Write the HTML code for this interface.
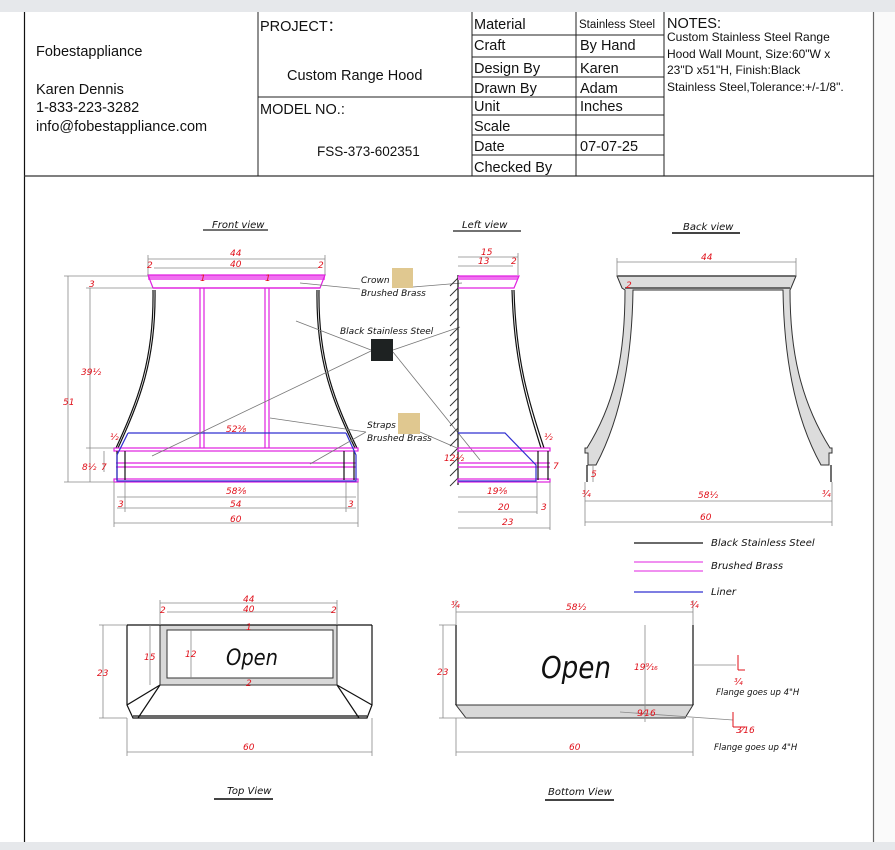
<!DOCTYPE html>
<html><head><meta charset="utf-8"><style>
body{margin:0;width:895px;height:850px;background:#fff;overflow:hidden;font-family:"Liberation Sans",sans-serif}
svg{display:block}
.t{font-family:"Liberation Sans",sans-serif;fill:#111}
.d{font-family:"DejaVu Sans","Liberation Sans",sans-serif;font-style:italic;fill:#e0101a;font-size:9px}
.l{font-family:"DejaVu Sans","Liberation Sans",sans-serif;font-style:italic;fill:#111;font-size:9px}
.dim{stroke:#888;stroke-width:0.8;fill:none}
.k{stroke:#111;stroke-width:1.2;fill:none}
.p{stroke:#e020e0;stroke-width:1.2;fill:none}
.b{stroke:#3030d0;stroke-width:1.2;fill:none}
.g{stroke:#777;stroke-width:0.8;fill:none}
</style></head><body>
<svg width="895" height="850" viewBox="0 0 895 850">
<rect x="0" y="0" width="895" height="12" fill="#e6e8eb"/>
<rect x="0" y="842" width="895" height="8" fill="#e6e8eb"/>
<rect x="874" y="12" width="21" height="830" fill="#fafafa"/>
<line x1="24.5" y1="12" x2="24.5" y2="842" stroke="#111" stroke-width="1.2"/>
<line x1="873.5" y1="12" x2="873.5" y2="842" stroke="#666" stroke-width="1.2"/>
<line x1="24" y1="176" x2="874" y2="176" stroke="#333" stroke-width="1.2"/>
<!-- title block -->
<g stroke="#222" stroke-width="1">
<line x1="258" y1="12" x2="258" y2="176"/><line x1="472" y1="12" x2="472" y2="176"/>
<line x1="576" y1="12" x2="576" y2="176"/><line x1="664" y1="12" x2="664" y2="176"/>
<line x1="258" y1="97" x2="472" y2="97"/>
<line x1="472" y1="35" x2="664" y2="35"/><line x1="472" y1="57" x2="664" y2="57"/>
<line x1="472" y1="77" x2="664" y2="77"/><line x1="472" y1="97" x2="664" y2="97"/>
<line x1="472" y1="115" x2="664" y2="115"/><line x1="472" y1="135" x2="664" y2="135"/>
<line x1="472" y1="155" x2="664" y2="155"/>
</g>
<g class="t" font-size="14.5">
<text x="36" y="56">Fobestappliance</text>
<text x="36" y="94">Karen Dennis</text>
<text x="36" y="112">1-833-223-3282</text>
<text x="36" y="131">info@fobestappliance.com</text>
<text x="260" y="31">PROJECT：</text>
<text x="287" y="80">Custom Range Hood</text>
<text x="260" y="114">MODEL NO.:</text>
<text x="317" y="156" font-size="13.5">FSS-373-602351</text>
<text x="474" y="29">Material</text><text x="474" y="50">Craft</text>
<text x="474" y="73">Design By</text><text x="474" y="93">Drawn By</text>
<text x="474" y="111">Unit</text><text x="474" y="131">Scale</text>
<text x="474" y="151">Date</text><text x="474" y="172">Checked By</text>
<text x="579" y="28" font-size="11.5">Stainless Steel</text>
<text x="580" y="50">By Hand</text><text x="580" y="73">Karen</text>
<text x="580" y="93">Adam</text><text x="580" y="111">Inches</text>
<text x="580" y="151">07-07-25</text>
<text x="667" y="28">NOTES:</text>
</g>
<g class="t" font-size="12">
<text x="667" y="41">Custom Stainless Steel Range</text>
<text x="667" y="58">Hood Wall Mount, Size:60"W x</text>
<text x="667" y="74">23"D x51"H, Finish:Black</text>
<text x="667" y="91">Stainless Steel,Tolerance:+/-1/8".</text>
</g>

<!-- view titles -->
<g class="l" style="font-size:10px">
<text x="212" y="228">Front view</text><line x1="203" y1="230" x2="268" y2="230" stroke="#444" stroke-width="1.5"/>
<text x="462" y="228">Left view</text><line x1="453" y1="231" x2="521" y2="231" stroke="#444" stroke-width="1.5"/>
<text x="683" y="230">Back view</text><line x1="672" y1="233" x2="740" y2="233" stroke="#444" stroke-width="2"/>
<text x="227" y="794">Top View</text><line x1="214" y1="799" x2="273" y2="799" stroke="#444" stroke-width="2"/>
<text x="548" y="795">Bottom View</text><line x1="545" y1="800" x2="614" y2="800" stroke="#444" stroke-width="2"/>
</g>

<!-- FRONT VIEW -->
<rect x="148" y="275" width="177" height="5" fill="#f070f0"/>
<path class="p" d="M148,275 L325,275 L320,288 L153,288 Z"/>
<line class="p" x1="153" y1="288" x2="320" y2="288" stroke-width="1.5"/>
<path class="k" d="M155,290 C156,360 140,400 118,448"/>
<path class="k" d="M153,290 C154,360 138,400 116,448"/>
<path class="k" d="M317,290 C316,360 332,400 355,448"/>
<path class="k" d="M319,290 C318,360 334,400 357,448"/>
<path class="p" d="M200,288 V448 M204,288 V448 M265,288 V448 M269,288 V448"/>
<rect class="p" x="114" y="448" width="244" height="3"/>
<line class="p" x1="116" y1="463" x2="356" y2="463"/><line class="p" x1="116" y1="467" x2="356" y2="467"/>
<rect class="p" x="114" y="479" width="244" height="3"/>
<path class="k" d="M117,451 V480 M125,451 V480 M344,451 V480 M354,451 V480"/>
<path class="b" d="M128,433 H346 M128,433 L117,455 V481 H356 V455 L346,433"/>
<g class="dim">
<line x1="148" y1="259" x2="325" y2="259"/><line x1="154" y1="268" x2="318" y2="268"/>
<line x1="148" y1="255" x2="148" y2="275"/><line x1="325" y1="255" x2="325" y2="275"/>
<line x1="68" y1="276" x2="68" y2="482"/><line x1="64" y1="276" x2="148" y2="276"/>
<line x1="90" y1="288" x2="90" y2="482"/><line x1="86" y1="288" x2="153" y2="288"/>
<line x1="104" y1="451" x2="104" y2="472"/><line x1="64" y1="482" x2="114" y2="482"/>
<line x1="86" y1="448" x2="114" y2="448"/>
<line x1="117" y1="497" x2="356" y2="497"/><line x1="117" y1="508" x2="356" y2="508"/>
<line x1="114" y1="523" x2="358" y2="523"/>
<line x1="114" y1="482" x2="114" y2="527"/><line x1="358" y1="482" x2="358" y2="527"/>
<line x1="125" y1="482" x2="125" y2="512"/><line x1="346" y1="482" x2="346" y2="512"/>
</g>
<g class="d">
<text x="230" y="256">44</text><text x="230" y="267">40</text>
<text x="147" y="268">2</text><text x="318" y="268">2</text>
<text x="89" y="287">3</text><text x="200" y="281">1</text><text x="265" y="281">1</text>
<text x="81" y="375">39½</text><text x="63" y="405">51</text>
<text x="226" y="432">52⅜</text><text x="110" y="440">½</text>
<text x="82" y="470">8½</text><text x="101" y="470">7</text>
<text x="226" y="494">58⅜</text><text x="118" y="507">3</text><text x="230" y="507">54</text><text x="348" y="507">3</text>
<text x="230" y="522">60</text>
</g>

<!-- material labels -->
<rect x="392" y="268" width="21" height="20" fill="#e0c890"/>
<rect x="371" y="339" width="22" height="22" fill="#1e2222"/>
<rect x="398" y="413" width="22" height="21" fill="#e0c890"/>
<g class="l">
<text x="361" y="283">Crown</text><text x="361" y="296">Brushed Brass</text>
<text x="340" y="334">Black Stainless Steel</text>
<text x="367" y="428">Straps</text><text x="367" y="441">Brushed Brass</text>
</g>
<g class="g">
<path d="M300,283 L360,289 M413,287 L462,283"/>
<path d="M296,321 L371,350 M152,456 L371,351 M393,350 L460,327 M393,352 L480,460"/>
<path d="M270,418 L366,432 M310,464 L366,432 M420,432 L457,448"/>
</g>

<!-- LEFT VIEW -->
<line x1="458" y1="275" x2="458" y2="485" stroke="#111" stroke-width="1.2"/>
<path d="M450,286 l8,-8 M450,296 l8,-8 M450,306 l8,-8 M450,316 l8,-8 M450,326 l8,-8 M450,336 l8,-8 M450,346 l8,-8 M450,356 l8,-8 M450,366 l8,-8 M450,376 l8,-8 M450,386 l8,-8 M450,396 l8,-8 M450,406 l8,-8 M450,416 l8,-8 M450,426 l8,-8 M450,436 l8,-8 M450,446 l8,-8 M450,456 l8,-8 M450,466 l8,-8 M450,476 l8,-8 M450,486 l8,-8" stroke="#333" stroke-width="0.9"/>
<rect x="458" y="276" width="60" height="4" fill="#f070f0"/>
<path class="p" d="M458,276 H519 L514,288 H458"/>
<path class="k" d="M512,290 C514,360 526,400 541,448"/>
<path class="k" d="M514,290 C516,360 528,400 544,448"/>
<rect class="p" x="458" y="448" width="92" height="3"/>
<line class="p" x1="458" y1="463" x2="550" y2="463"/><line class="p" x1="458" y1="467" x2="550" y2="467"/>
<rect class="p" x="458" y="479" width="92" height="3"/>
<path class="k" d="M538,451 V480 M548,451 V480"/>
<path class="b" d="M458,433 H505 L536,465 V481 H458"/>
<g class="dim">
<line x1="458" y1="257" x2="518" y2="257"/><line x1="458" y1="266" x2="513" y2="266"/>
<line x1="518" y1="253" x2="518" y2="275"/>
<line x1="458" y1="497" x2="537" y2="497"/><line x1="458" y1="512" x2="537" y2="512"/>
<line x1="458" y1="528" x2="550" y2="528"/><line x1="550" y1="482" x2="550" y2="530"/>
<line x1="537" y1="482" x2="537" y2="514"/>
</g>
<g class="d">
<text x="481" y="255">15</text><text x="478" y="264">13</text><text x="511" y="264">2</text>
<text x="544" y="440">½</text><text x="444" y="461">12½</text><text x="553" y="469">7</text>
<text x="487" y="494">19⅜</text><text x="498" y="510">20</text><text x="541" y="510">3</text><text x="502" y="525">23</text>
</g>

<!-- BACK VIEW -->
<path d="M617,276 H796 L791,288 L790,290 C790,350 800,400 830,448 L832,448 V453 L829,453 V465 L821,465 C796,420 784,360 783,290 L633,290 C632,360 620,420 596,465 L588,465 V453 L585,453 V448 L587,448 C617,400 625,350 625,290 L622,288 Z" fill="#dcdcdc" stroke="#333" stroke-width="1"/>
<line x1="617" y1="276" x2="796" y2="276" stroke="#444" stroke-width="1.5"/>
<line x1="625" y1="288" x2="790" y2="288" stroke="#444" stroke-width="1.5"/>
<path class="k" d="M587,465 V482 M831,465 V482" stroke-width="1.5"/>
<g class="dim">
<line x1="617" y1="262" x2="796" y2="262"/><line x1="617" y1="258" x2="617" y2="276"/><line x1="796" y1="258" x2="796" y2="276"/>
<line x1="585" y1="501" x2="832" y2="501"/><line x1="585" y1="522" x2="832" y2="522"/>
<line x1="585" y1="482" x2="585" y2="526"/><line x1="832" y1="482" x2="832" y2="526"/>
<line x1="593" y1="466" x2="593" y2="482"/>
</g>
<g class="d">
<text x="701" y="260">44</text><text x="626" y="288">2</text><text x="591" y="477">5</text>
<text x="582" y="497">¾</text><text x="698" y="498">58½</text><text x="822" y="497">¾</text><text x="700" y="520">60</text>
</g>

<!-- legend -->
<line x1="634" y1="543" x2="703" y2="543" stroke="#111" stroke-width="1.2"/>
<line x1="634" y1="562" x2="703" y2="562" stroke="#e020e0" stroke-width="1"/>
<line x1="634" y1="571" x2="703" y2="571" stroke="#e020e0" stroke-width="1"/>
<line x1="634" y1="592" x2="703" y2="592" stroke="#3030d0" stroke-width="1.2"/>
<g class="l" style="font-size:10px"><text x="711" y="546">Black Stainless Steel</text><text x="711" y="569">Brushed Brass</text><text x="711" y="595">Liner</text></g>

<!-- TOP VIEW -->
<path d="M160,625 H337 V685 H160 Z M167,630 V678 H333 V630 Z" fill="#d8d8d8" fill-rule="evenodd" stroke="#333" stroke-width="1"/>
<path class="k" d="M127,625 H372 M127,625 V705 L133,718 H367 L372,705 V625 M160,685 L127,705 M160,685 L138,718 M337,685 L372,705 M337,685 L359,718 M133,716 H367"/>
<g class="dim">
<line x1="160" y1="603" x2="337" y2="603"/><line x1="167" y1="612" x2="333" y2="612"/>
<line x1="160" y1="600" x2="160" y2="625"/><line x1="337" y1="600" x2="337" y2="625"/>
<line x1="103" y1="625" x2="103" y2="718"/><line x1="99" y1="625" x2="127" y2="625"/><line x1="99" y1="718" x2="127" y2="718"/>
<line x1="150" y1="625" x2="150" y2="685"/><line x1="191" y1="630" x2="191" y2="678"/>
<line x1="127" y1="752" x2="372" y2="752"/><line x1="127" y1="718" x2="127" y2="756"/><line x1="372" y1="718" x2="372" y2="756"/>
</g>
<g class="d">
<text x="243" y="602">44</text><text x="243" y="612">40</text><text x="160" y="613">2</text><text x="331" y="613">2</text>
<text x="246" y="630">1</text><text x="246" y="686">2</text>
<text x="144" y="660">15</text><text x="185" y="657">12</text><text x="97" y="676">23</text><text x="243" y="750">60</text>
</g>
<text x="226" y="665" style="font-family:'DejaVu Sans','Liberation Sans',sans-serif;font-style:italic;font-size:22px;fill:#111;font-weight:normal" textLength="52" lengthAdjust="spacingAndGlyphs">Open</text>

<!-- BOTTOM VIEW -->
<path d="M456,705 H693 L685,718 H466 Z" fill="#d8d8d8" stroke="#333" stroke-width="1"/>
<path class="k" d="M456,625 V705 M693,625 V705"/>
<g class="dim">
<line x1="456" y1="612" x2="693" y2="612"/><line x1="456" y1="600" x2="456" y2="625"/><line x1="693" y1="600" x2="693" y2="625"/>
<line x1="443" y1="625" x2="443" y2="718"/><line x1="439" y1="625" x2="456" y2="625"/><line x1="439" y1="718" x2="466" y2="718"/>
<line x1="645" y1="625" x2="645" y2="722"/>
<line x1="456" y1="752" x2="693" y2="752"/><line x1="456" y1="718" x2="456" y2="756"/><line x1="693" y1="718" x2="693" y2="756"/>
<line x1="693" y1="665" x2="736" y2="665"/><line x1="620" y1="712" x2="733" y2="720"/>
</g>
<path d="M738,655 V670 M738,670 H745 M733,712 V727 M733,727 H745" stroke="#e0101a" stroke-width="1" fill="none"/>
<g class="d">
<text x="451" y="608">¾</text><text x="566" y="610">58½</text><text x="690" y="608">¾</text>
<text x="437" y="675">23</text><text x="634" y="670">19⁹⁄₁₆</text><text x="637" y="716">9⁄16</text>
<text x="734" y="685">¾</text><text x="736" y="733">3⁄16</text><text x="569" y="750">60</text>
</g>
<text x="541" y="678" style="font-family:'DejaVu Sans','Liberation Sans',sans-serif;font-style:italic;font-size:30px;fill:#111" textLength="70" lengthAdjust="spacingAndGlyphs">Open</text>
<g class="l" style="font-size:8.5px"><text x="716" y="695">Flange goes up 4"H</text><text x="714" y="750">Flange goes up 4"H</text></g>
</svg>
</body></html>
